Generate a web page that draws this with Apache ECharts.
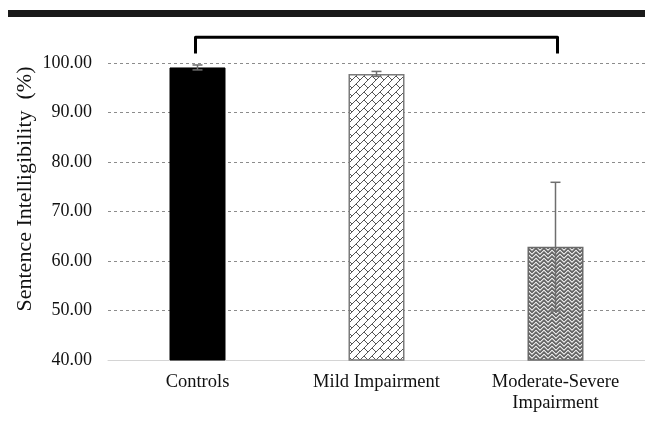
<!DOCTYPE html>
<html>
<head>
<meta charset="utf-8">
<script src="https://cdn.jsdelivr.net/npm/echarts@6/dist/echarts.min.js"></script>
<style>html,body{margin:0;padding:0;background:#fff;}#c{width:645px;height:423px;}</style>
</head>
<body>
<div id="c"></div>
<script>
const categories = ['Controls', 'Mild Impairment', 'Moderate-Severe\nImpairment'];
const means = [99.1, 97.8, 62.9];
const errors = [0.5, 0.5, 13.0];
const yTicks = { min: 40, max: 100, interval: 10 };
const yTitle = 'Sentence Intelligibility  (%)';
const bracketFrom = 0, bracketTo = 2, bracketTop = 105.2, bracketBottom = 101.9;

function makeTile(size, drawFn) {
  const c = document.createElement('canvas');
  c.width = size; c.height = size;
  const ctx = c.getContext('2d');
  drawFn(ctx, size);
  return c;
}
// diagonal brick (white with gray)
const brickMap = [
  '.......#',
  '......#.',
  '.....#..',
  '....#...',
  '...##...',
  '..#..#..',
  '.#....#.',
  '#......#'
];
const brick = makeTile(8, (ctx, s) => {
  ctx.fillStyle = '#ffffff'; ctx.fillRect(0, 0, s, s);
  ctx.fillStyle = '#555555';
  brickMap.forEach((row, y) => row.split('').forEach((ch, x) => { if (ch === '#') ctx.fillRect(x, y, 1, 1); }));
});
// horizontal zigzag (dense gray)
const zigOffsets = [0, 1, 2, 3, 3, 2, 1, 0];
const zigzag = makeTile(8, (ctx, s) => {
  const shades = ['#666666', '#6e6e6e', '#e6e6e6', '#a6a6a6'];
  for (let x = 0; x < s; x++) {
    for (let y = 0; y < s; y++) {
      const d = ((y - zigOffsets[x]) % 4 + 4) % 4;
      ctx.fillStyle = shades[d];
      ctx.fillRect(x, y, 1, 1);
    }
  }
});

const barStyles = [
  { color: '#000000', borderColor: '#000000', borderWidth: 1 },
  { color: { image: brick, repeat: 'repeat' }, borderColor: '#7a7a7a', borderWidth: 1.5 },
  { color: { image: zigzag, repeat: 'repeat' }, borderColor: '#6a6a6a', borderWidth: 1.5 }
];

const chart = echarts.init(document.getElementById('c'), null, { renderer: 'canvas' });
const font = 'Liberation Serif';
chart.setOption({
  animation: false,
  backgroundColor: '#ffffff',
  grid: { left: 108, right: 0, top: 63, bottom: 63 },
  xAxis: {
    type: 'category',
    data: categories,
    axisLine: { show: true, lineStyle: { color: '#d4d4d4', width: 1 } },
    axisTick: { show: false },
    axisLabel: { fontFamily: font, fontSize: 18.5, color: '#111', margin: 12, lineHeight: 21, interval: 0 }
  },
  yAxis: {
    type: 'value',
    min: yTicks.min, max: yTicks.max, interval: yTicks.interval,
    axisLine: { show: false },
    axisTick: { show: false },
    axisLabel: { fontFamily: font, fontSize: 18, color: '#111', margin: 16, formatter: v => v.toFixed(2) },
    splitLine: { lineStyle: { color: '#8c8c8c', type: [3, 3], width: 1 } }
  },
  series: [
    {
      type: 'bar',
      barWidth: 56,
      data: means.map((v, i) => ({ value: v, itemStyle: barStyles[i] })),
      z: 2
    },
    {
      type: 'custom',
      z: 5,
      data: means.map((v, i) => [i, v - errors[i], v + errors[i]]),
      renderItem: function (params, api) {
        const lo = api.coord([api.value(0), api.value(1)]);
        const hi = api.coord([api.value(0), api.value(2)]);
        const w = 5;
        const st = { stroke: '#6e6e6e', lineWidth: 1.5 };
        return {
          type: 'group',
          children: [
            { type: 'line', shape: { x1: hi[0], y1: hi[1], x2: lo[0], y2: lo[1] }, style: st },
            { type: 'line', shape: { x1: hi[0] - w, y1: hi[1], x2: hi[0] + w, y2: hi[1] }, style: st },
            { type: 'line', shape: { x1: lo[0] - w, y1: lo[1], x2: lo[0] + w, y2: lo[1] }, style: st }
          ]
        };
      }
    }
  ]
});

const pL = chart.convertToPixel({ gridIndex: 0 }, [bracketFrom, bracketTop]);
const pR = chart.convertToPixel({ gridIndex: 0 }, [bracketTo, bracketTop]);
const pB = chart.convertToPixel({ gridIndex: 0 }, [bracketFrom, bracketBottom]);
chart.setOption({
  graphic: [
    { type: 'rect', shape: { x: 8, y: 10, width: 637, height: 7 }, style: { fill: '#1a1a1a' } },
    {
      type: 'polyline',
      shape: { points: [[pL[0] - 2, pB[1]], [pL[0] - 2, pL[1]], [pR[0] + 2, pR[1]], [pR[0] + 2, pB[1]]] },
      style: { stroke: '#000', lineWidth: 3, fill: null, lineJoin: 'round' }
    },
    {
      type: 'text', x: 25, y: 189, rotation: Math.PI / 2,
      style: { text: yTitle, font: '22px "Liberation Serif"', fill: '#111', align: 'center', verticalAlign: 'middle' }
    }
  ]
});
</script>
</body>
</html>
